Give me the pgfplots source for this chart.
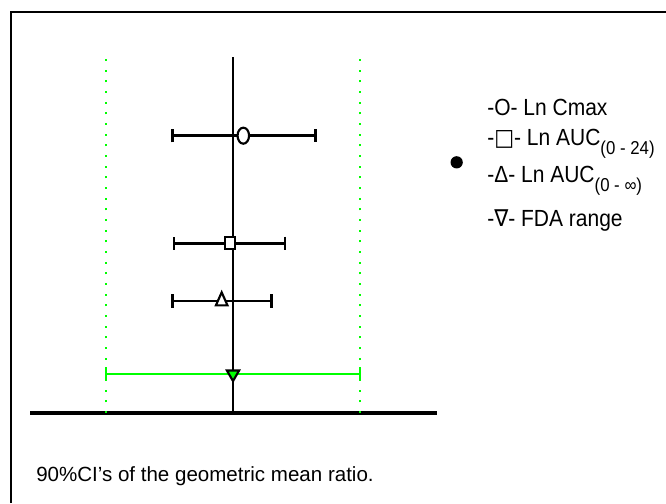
\documentclass[border=0pt]{standalone}
\usepackage{pgfplots}
\pgfplotsset{compat=1.18}
\usepackage{fontspec}
\setmainfont{Liberation Sans}
\newfontfamily\symfont{DejaVu Sans}
\newcommand{\leg}[1]{\scalebox{0.9}[1]{\fontsize{17.5pt}{17.5pt}\selectfont #1}}
\newcommand{\sub}[1]{\raisebox{-6.5pt}{\fontsize{14pt}{14pt}\selectfont #1}}
\begin{document}
\begin{tikzpicture}
\useasboundingbox (0,0) rectangle (499.5pt,377.25pt);
% frame (cropped at right and bottom)
\draw[line width=1.5pt] (8.25pt,0) -- (8.25pt,368.25pt) -- (500pt,368.25pt);
\begin{axis}[
  at={(22.5pt,67.5pt)}, anchor=south west,
  scale only axis, width=305.25pt, height=267pt,
  xmin=-0.3568, xmax=0.3585, ymin=0, ymax=356,
  axis lines=none, clip=false,
]
% baseline and line of no difference
\addplot[black, line width=2.6pt] coordinates {(-0.3568,0) (0.3585,0)};
\addplot[black, line width=1.9pt] coordinates {(0,0) (0,356)};
% FDA limits ln(0.8), ln(1.25)
\addplot[green, line width=1.6pt, dash pattern=on 1.6pt off 6.4pt] coordinates {(-0.2231,0) (-0.2231,354)};
\addplot[green, line width=1.6pt, dash pattern=on 1.6pt off 6.4pt] coordinates {(0.2231,0) (0.2231,354)};
% Ln Cmax
\addplot[black, only marks, mark=*, mark size=6pt,
  mark options={xscale=0.72, fill=white, draw=black, line width=1.6pt},
  error bars/.cd, x dir=both, x explicit,
  error bar style={line width=1.9pt, black},
  error mark options={rotate=90, line width=1.9pt, mark size=5pt, black}]
  coordinates {(0.0181,277.3) += (0.1265,0) -= (0.1248,0)};
% Ln AUC(0-24)
\addplot[black, only marks, mark=square*, mark size=4.6pt,
  mark options={xscale=0.85, fill=white, draw=black, line width=1.6pt},
  error bars/.cd, x dir=both, x explicit,
  error bar style={line width=1.9pt, black},
  error mark options={rotate=90, line width=1.9pt, mark size=5pt, black}]
  coordinates {(-0.0053,169.7) += (0.0967,0) -= (0.0984,0)};
% Ln AUC(0-inf)
\addplot[black, only marks, mark=triangle*, mark size=5pt,
  mark options={yscale=1.3, fill=white, draw=black, line width=1.6pt},
  error bars/.cd, x dir=both, x explicit,
  error bar style={line width=1.9pt, black},
  error mark options={rotate=90, line width=1.9pt, mark size=5pt, black}]
  coordinates {(-0.0199,112) += (0.0879,0) -= (0.0861,0)};
% FDA range
\addplot[black, only marks, mark=triangle*, mark size=5.3pt,
  mark options={rotate=180, fill=green, draw=black, line width=1.6pt},
  error bars/.cd, x dir=both, x explicit,
  error bar style={line width=2pt, green},
  error mark options={rotate=90, line width=1.9pt, mark size=5pt, green}]
  coordinates {(0,39) += (0.2231,0) -= (0.2231,0)};
\end{axis}
% legend
\fill[black] (342.5pt,255.5pt) circle (4.6pt);
\begin{scope}[every node/.style={anchor=base west, inner sep=0pt}]
\node at (365.25pt,290.25pt) {\leg{-O- Ln Cmax}};
\node at (365.25pt,267.75pt) {\leg{-{\symfont\bfseries □}- Ln AUC\sub{(0 - 24)}}};
\node at (365.25pt,240pt) {\leg{-Δ- Ln AUC\sub{(0 - ∞)}}};
\node at (365.25pt,207pt) {\leg{-{\symfont ∇}- FDA range}};
\end{scope}
\node[anchor=base west, inner sep=0pt, font=\fontsize{15.4pt}{15.4pt}\selectfont] at (27pt,16.5pt) {90\%CI's of the geometric mean ratio.};
\end{tikzpicture}
\end{document}
